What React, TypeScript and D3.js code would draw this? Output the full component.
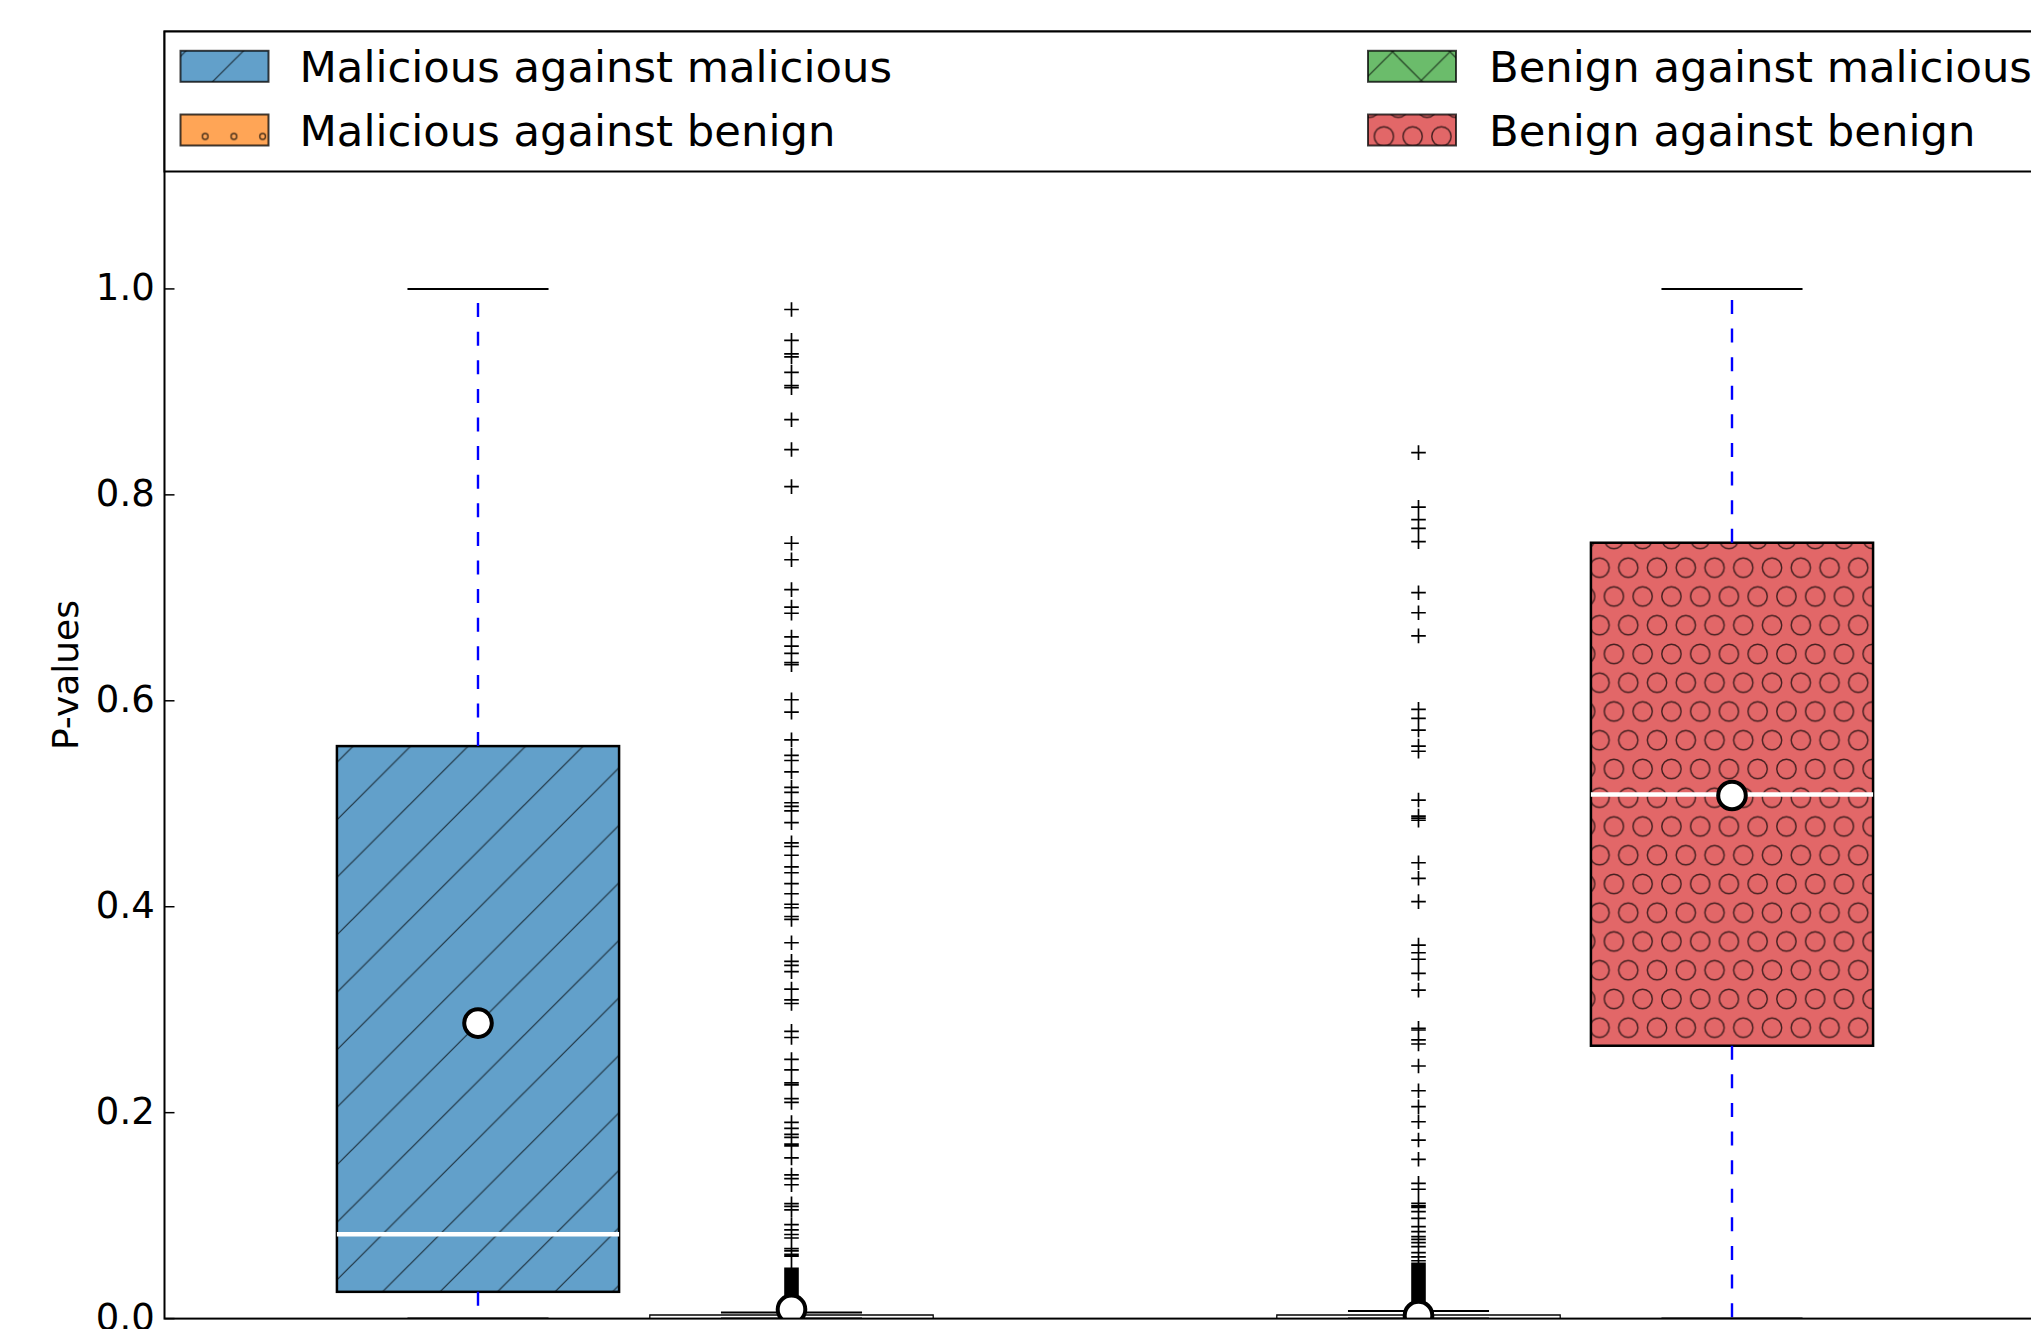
import React from 'react';
import * as d3 from 'd3';

// box statistics
const labels = [
  'Malicious against malicious',
  'Malicious against benign',
  'Benign against malicious',
  'Benign against benign',
];
const positions = [1, 2, 4, 5];
const colors = ['#1f77b4', '#ff7f0e', '#2ca02c', '#d62728'];
const hatches = ['slash', 'small', 'cross', 'large'];
const q1 = [0.026, 0, 0, 0.265];
const medians = [0.082, 0.0005, 0.0005, 0.509];
const q3 = [0.556, 0.003, 0.003, 0.7535];
const whiskerLow = [0, 0, 0, 0];
const whiskerHigh = [1.0, 0.006, 0.0074, 1.0];
const means = [0.287, 0.009, 0.003, 0.508];

const maliciousBenignFliers = [
  0.98, 0.95, 0.937, 0.934, 0.919, 0.906, 0.904, 0.873, 0.844, 0.808, 0.753, 0.737,
  0.708, 0.691, 0.685, 0.662, 0.653, 0.646, 0.637, 0.635, 0.601, 0.589, 0.562, 0.547,
  0.542, 0.531, 0.516, 0.511, 0.501, 0.4975, 0.493, 0.4816, 0.462, 0.4585, 0.45, 0.4388,
  0.433, 0.4225, 0.4126, 0.4024, 0.399, 0.3905, 0.3877, 0.365, 0.347, 0.343, 0.337, 0.32,
  0.3095, 0.306, 0.279, 0.273, 0.2517, 0.2415, 0.229, 0.227, 0.2137, 0.21, 0.1905, 0.1847,
  0.179, 0.176, 0.1695, 0.1677, 0.156, 0.1395, 0.136, 0.13, 0.1116, 0.1089, 0.1055, 0.0912,
  0.0861, 0.0817, 0.0783, 0.068, 0.0657, 0.0623, 0.0606, 0.0487, 0.0475, 0.046, 0.0445,
  0.043, 0.0418, 0.0405, 0.039, 0.0378, 0.0365, 0.035, 0.0338, 0.0325, 0.031, 0.0298,
  0.0285, 0.027, 0.0258, 0.0245, 0.023, 0.0218, 0.0205, 0.019, 0.0178, 0.0165, 0.015,
  0.0138, 0.0125, 0.011, 0.0098, 0.0085,
];
const benignMaliciousFliers = [
  0.841, 0.788, 0.776, 0.7675, 0.7545, 0.705, 0.6855, 0.663, 0.5917, 0.583, 0.5716, 0.556,
  0.551, 0.5036, 0.488, 0.486, 0.484, 0.4427, 0.4276, 0.405, 0.3628, 0.3553, 0.349, 0.3353,
  0.319, 0.282, 0.2803, 0.2706, 0.2667, 0.2453, 0.2213, 0.2058, 0.1912, 0.1734, 0.1547,
  0.1314, 0.1256, 0.112, 0.1094, 0.108, 0.1038, 0.0974, 0.0893, 0.0844, 0.0796, 0.077,
  0.0737, 0.0699, 0.064, 0.06, 0.0562, 0.0537, 0.0525, 0.051, 0.0495, 0.048, 0.0468, 0.0455,
  0.044, 0.0425, 0.041, 0.0398, 0.0385, 0.037, 0.0355, 0.034, 0.0328, 0.0315, 0.03, 0.0285,
  0.027, 0.0258, 0.0245, 0.023, 0.0215, 0.02, 0.0188, 0.0175, 0.016, 0.0145, 0.013, 0.0118,
  0.0105, 0.009,
];
const fliers = [[], maliciousBenignFliers, benignMaliciousFliers, []];
const yTicks = [0, 0.2, 0.4, 0.6, 0.8, 1.0];

const W = 2031, H = 1329;
const left = 164.5, right = 2045.5, top = 31.5, bottom = 1318.6;
const font = '"DejaVu Sans", sans-serif';
const P = 57.5; // hatch period

export default function App() {
  const x = d3.scaleLinear().domain([0, 6]).range([left, right]);
  const y = d3.scaleLinear().domain([0, 1.25]).range([bottom, top]);
  const bw = x(0.9) - x(0);
  const capW = x(0.45) - x(0);
  const hatchStroke = { stroke: '#000', strokeOpacity: 0.7, fill: 'none' };

  const circleTile = (r: number) => (
    <g {...hatchStroke} strokeWidth={1.4}>
      <circle cx={0} cy={0} r={r} />
      <circle cx={P / 2} cy={0} r={r} />
      <circle cx={0} cy={P} r={r} />
      <circle cx={P / 2} cy={P} r={r} />
      <circle cx={P / 4} cy={P / 2} r={r} />
    </g>
  );

  const legendRows = [66.3, 130];
  const legendCols = [180.5, 1368];
  const legendText = [299.5, 1489];

  return (
    <div style={{ position: 'absolute', left: 0, top: 0 }}>
      <svg width={W} height={H} style={{ display: 'block', background: '#fff' }}>
        <defs>
          <clipPath id="axes-clip">
            <rect x={left} y={top} width={right - left} height={bottom - top} />
          </clipPath>
          <pattern id="hatch-slash" patternUnits="userSpaceOnUse" width={P} height={P} x={6.8} y={0}>
            <path d={`M0,${P}L${P},0M-5,5L5,-5M${P - 5},${P + 5}L${P + 5},${P - 5}`} {...hatchStroke} strokeWidth={1.2} />
          </pattern>
          <pattern id="hatch-cross" patternUnits="userSpaceOnUse" width={P} height={P} x={6.8} y={0}>
            <path
              d={`M0,${P}L${P},0M-5,5L5,-5M${P - 5},${P + 5}L${P + 5},${P - 5}` +
                `M${11.4},0L${11.4 + P},${P}M${11.4 - P},0L${11.4},${P}`}
              {...hatchStroke}
              strokeWidth={1.2}
            />
          </pattern>
          <pattern id="hatch-small" patternUnits="userSpaceOnUse" width={P / 2} height={P} x={18.3} y={50.2}>
            {circleTile(2.9)}
          </pattern>
          <pattern id="hatch-large" patternUnits="userSpaceOnUse" width={P / 2} height={P} x={18.3} y={50.2}>
            {circleTile(9.65)}
          </pattern>
        </defs>

        <g clipPath="url(#axes-clip)">
          {positions.map((p, i) => {
            const cx = x(p);
            const x0 = cx - bw / 2;
            const yTop = y(q3[i]);
            const h = y(q1[i]) - yTop;
            return (
              <g key={'box' + i}>
                <rect x={x0} y={yTop} width={bw} height={h} fill={colors[i]} fillOpacity={0.7} />
                <rect x={x0} y={yTop} width={bw} height={h} fill={`url(#hatch-${hatches[i]})`} />
                <rect x={x0} y={yTop} width={bw} height={h} fill="none" stroke="#000" strokeWidth={2.5} />
                <line x1={x0} x2={x0 + bw} y1={y(medians[i])} y2={y(medians[i])} stroke="#fff" strokeWidth={4.5} />
                <line x1={cx} x2={cx} y1={y(q3[i])} y2={y(whiskerHigh[i])} stroke="#0000ff" strokeWidth={2.4} strokeDasharray="14 14.6" />
                <line x1={cx} x2={cx} y1={y(q1[i])} y2={y(whiskerLow[i])} stroke="#0000ff" strokeWidth={2.4} strokeDasharray="14 14.6" />
                <line x1={cx - capW / 2} x2={cx + capW / 2} y1={y(whiskerHigh[i])} y2={y(whiskerHigh[i])} stroke="#000" strokeWidth={2} />
                <line x1={cx - capW / 2} x2={cx + capW / 2} y1={y(whiskerLow[i])} y2={y(whiskerLow[i])} stroke="#000" strokeWidth={2} />
                <path
                  d={fliers[i].map((v) => `M${cx - 7.3},${y(v)}h14.6M${cx},${y(v) - 7.3}v14.6`).join('')}
                  stroke="#000"
                  strokeWidth={1.7}
                  fill="none"
                />
                <circle cx={cx} cy={y(means[i])} r={13.8} fill="#fff" stroke="#000" strokeWidth={4} />
              </g>
            );
          })}
        </g>

        {/* spines */}
        <rect x={left} y={top} width={right - left} height={bottom - top} fill="none" stroke="#000" strokeWidth={2} />

        {/* y axis */}
        {yTicks.map((t) => (
          <g key={'t' + t}>
            <line x1={left} x2={left + 10} y1={y(t)} y2={y(t)} stroke="#000" strokeWidth={1.5} />
            <line x1={right - 10} x2={right} y1={y(t)} y2={y(t)} stroke="#000" strokeWidth={1.5} />
            <text x={154.7} y={y(t) + 11.5} textAnchor="end" fontFamily={font} fontSize={37} fill="#000">
              {d3.format('.1f')(t)}
            </text>
          </g>
        ))}
        <text
          transform={`translate(78,${(top + bottom) / 2}) rotate(-90)`}
          textAnchor="middle"
          fontFamily={font}
          fontSize={36}
          fill="#000"
        >
          P-values
        </text>

        {/* legend */}
        <rect x={left} y={top} width={right - left} height={171.5 - top} fill="#fff" stroke="#000" strokeWidth={2} />
        {labels.map((label, i) => {
          const col = Math.floor(i / 2);
          const row = i % 2;
          const cy = legendRows[row];
          return (
            <g key={'leg' + i}>
              <rect x={legendCols[col]} y={cy - 15.5} width={88} height={31} fill={colors[i]} fillOpacity={0.7} />
              <rect x={legendCols[col]} y={cy - 15.5} width={88} height={31} fill={`url(#hatch-${hatches[i]})`} />
              <rect x={legendCols[col]} y={cy - 15.5} width={88} height={31} fill="none" stroke="#000" strokeOpacity={0.75} strokeWidth={2} />
              <text x={legendText[col]} y={cy + 15.5} fontFamily={font} fontSize={43.3} fill="#000">
                {label}
              </text>
            </g>
          );
        })}
      </svg>
    </div>
  );
}
